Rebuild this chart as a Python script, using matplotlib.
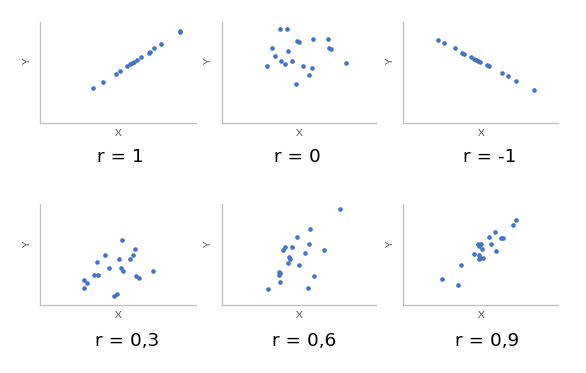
import numpy as np
import matplotlib.pyplot as plt

# six scatter samples with different correlation, axes 0..10
x_r1 = [3.40, 4.05, 4.88, 5.14, 5.57, 5.76, 5.89, 6.02, 6.19, 6.49, 6.96, 7.07, 7.32, 7.75, 8.95, 8.99]
y_r1 = [3.43, 4.02, 4.84, 5.10, 5.60, 5.79, 5.92, 6.05, 6.19, 6.49, 6.94, 6.98, 7.37, 7.77, 8.98, 9.05]

x_r0 = [3.80, 4.25, 3.28, 4.86, 5.03, 5.94, 6.91, 6.97, 7.06, 4.32, 3.47, 3.86, 4.12, 4.58, 2.96, 5.29, 5.87, 5.68, 4.83, 8.08]
y_r0 = [9.25, 9.25, 7.37, 8.09, 7.96, 8.26, 8.26, 7.37, 7.27, 7.07, 6.58, 6.09, 5.79, 6.09, 5.59, 5.59, 5.40, 4.71, 3.82, 5.89]

x_rm1 = [2.26, 2.65, 3.32, 3.81, 3.94, 4.37, 4.54, 4.69, 4.82, 4.97, 5.38, 5.55, 6.39, 6.77, 7.29, 8.45]
y_rm1 = [8.16, 7.87, 7.37, 6.88, 6.81, 6.48, 6.29, 6.19, 6.09, 5.99, 5.69, 5.59, 4.90, 4.61, 4.12, 3.23]

x_r03 = [5.25, 6.08, 5.95, 5.76, 4.16, 5.05, 3.65, 4.41, 5.18, 5.34, 7.23, 3.45, 3.71, 6.14, 6.33, 2.82, 3.01, 2.82, 4.73, 4.93]
y_r03 = [6.44, 5.54, 4.95, 4.55, 4.95, 4.55, 4.26, 3.66, 3.66, 3.37, 3.37, 2.97, 2.97, 2.87, 2.67, 2.48, 2.18, 1.68, 0.89, 1.09]

x_r06 = [7.69, 5.74, 4.90, 5.68, 4.12, 3.99, 4.58, 6.65, 5.42, 4.38, 4.45, 4.32, 5.03, 3.73, 3.73, 3.80, 6.00, 3.80, 3.02, 5.61]
y_r06 = [9.50, 7.52, 6.73, 6.04, 5.74, 5.45, 5.74, 5.45, 5.15, 4.75, 4.55, 4.16, 3.96, 3.27, 2.97, 3.17, 2.87, 2.28, 1.58, 1.68]

x_r09 = [7.29, 7.10, 5.94, 5.55, 6.32, 6.45, 4.84, 5.03, 5.68, 4.90, 5.10, 6.00, 4.58, 4.90, 5.16, 4.97, 4.90, 3.74, 2.52, 3.55]
y_r09 = [8.42, 7.92, 7.23, 6.73, 6.63, 6.63, 6.04, 6.04, 6.04, 5.84, 5.54, 5.35, 5.05, 4.95, 4.65, 4.65, 4.55, 3.96, 2.57, 1.98]

labels = ['r = 1', 'r = 0', 'r = -1', 'r = 0,3', 'r = 0,6', 'r = 0,9']
xs = [x_r1, x_r0, x_rm1, x_r03, x_r06, x_r09]
ys = [y_r1, y_r0, y_rm1, y_r03, y_r06, y_r09]

W, H = 586, 373
fig = plt.figure(figsize=(W / 100, H / 100), dpi=100)

# axes frames in pixels: left, top, right, bottom
lefts = [40.3, 221.7, 403.3]
rights = [196.0, 376.0, 558.3]
rows = [(21.7, 123.0), (204.3, 305.3)]
title_x = [120.5, 297.7, 490.0, 126.7, 304.3, 486.7]
title_y = [157.5, 341.0]

dot = '#4472C4'
grey = '#BFBFBF'
txt = '#595959'

for i in range(6):
    r, c = divmod(i, 3)
    top, bot = rows[r]
    ax = fig.add_axes([lefts[c] / W, 1 - bot / H, (rights[c] - lefts[c]) / W, (bot - top) / H])
    ax.scatter(xs[i], ys[i], s=11, color=dot, linewidths=0, zorder=3)
    ax.set_xlim(0, 10)
    ax.set_ylim(0, 10)
    for s in ['top', 'right']:
        ax.spines[s].set_visible(False)
    for s in ['left', 'bottom']:
        ax.spines[s].set_color(grey)
        ax.spines[s].set_linewidth(0.9)
    ax.set_xticks([])
    ax.set_yticks([])
    ax.set_xlabel('X', fontsize=7.5, color=txt, family='Lato')
    ax.set_ylabel('Y', fontsize=7.5, color=txt, family='Lato')
    ax.xaxis.set_label_coords(0.5, -0.055)
    ax.yaxis.set_label_coords(-0.055, 0.61)
    fig.text(title_x[i] / W, 1 - title_y[r] / H, labels[i], fontsize=13.3,
             family='DejaVu Sans', ha='center', va='center', color='black')

plt.savefig('out.png', dpi=100)
plt.close()
